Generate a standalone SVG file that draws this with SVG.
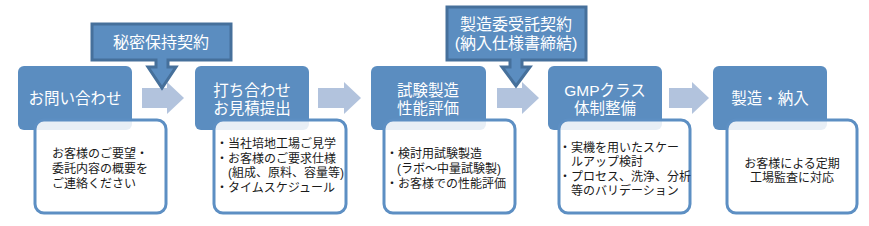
<svg xmlns="http://www.w3.org/2000/svg" width="869" height="226" viewBox="0 0 869 226">
  <style>
    text { font-family: "Liberation Sans", "Noto Sans CJK JP", sans-serif; }
    .hdr { fill: #5b8dc0; }
    .box { fill: #ffffff; fill-opacity: 0.86; stroke: #5d8fc3; stroke-width: 3; }
    .ht { fill: #ffffff; font-size: 15.5px; text-anchor: middle; }
    .bt { fill: #1a1a1a; font-size: 12px; }
    .ctr { fill: #5b8dc0; stroke: #46709b; stroke-width: 3; stroke-linejoin: miter; }
    .ct { fill: #ffffff; font-size: 16px; text-anchor: middle; }
    .arr { fill: #b2c3dd; }
  </style>
  <g id="connectors">
    <path class="arr" d="M142,88 H167 V82 L184,98 L167,114 V108 H142 Z"/>
    <path class="arr" d="M318,88 H344 V82 L361,98 L344,114 V108 H318 Z"/>
    <path class="arr" d="M497,88 H522 V82 L539,98 L522,114 V108 H497 Z"/>
    <path class="arr" d="M669,88 H692 V82 L709,98 L692,114 V108 H669 Z"/>
  </g>
  <g id="node1">
    <rect class="hdr" x="18" y="66" width="114" height="64" rx="6"/>
    <text class="ht" x="75" y="104">お問い合わせ</text>
    <rect class="box" x="35" y="120" width="131" height="93" rx="9"/>
    <text class="bt" x="52" y="157.5">お客様のご要望・</text>
    <text class="bt" x="52" y="172.5">委託内容の概要を</text>
    <text class="bt" x="52" y="187.5">ご連絡ください</text>
  </g>
  <g id="node2">
    <rect class="hdr" x="195" y="66" width="114" height="64" rx="6"/>
    <text class="ht" x="252" y="96">打ち合わせ</text>
    <text class="ht" x="252" y="114">お見積提出</text>
    <rect class="box" x="214" y="120" width="132" height="93" rx="9"/>
    <text class="bt" x="216" y="147.5">・当社培地工場ご見学</text>
    <text class="bt" x="216" y="162.5">・お客様のご要求仕様</text>
    <text class="bt" x="228" y="177">(組成、原料、容量等)</text>
    <text class="bt" x="216" y="191.5">・タイムスケジュール</text>
  </g>
  <g id="node3">
    <rect class="hdr" x="371" y="66" width="115" height="64" rx="6"/>
    <text class="ht" x="428" y="96">試験製造</text>
    <text class="ht" x="428" y="114">性能評価</text>
    <rect class="box" x="384" y="120" width="131" height="93" rx="9"/>
    <text class="bt" x="386" y="157.5">・検討用試験製造</text>
    <text class="bt" x="397" y="172.5">(ラボ～中量試験製)</text>
    <text class="bt" x="386" y="187.5">・お客様での性能評価</text>
  </g>
  <g id="node4">
    <rect class="hdr" x="548" y="66" width="114" height="64" rx="6"/>
    <text class="ht" x="605" y="96">GMPクラス</text>
    <text class="ht" x="605" y="114">体制整備</text>
    <rect class="box" x="559" y="120" width="131" height="93" rx="9"/>
    <text class="bt" x="559" y="151.5">・実機を用いたスケー</text>
    <text class="bt" x="571" y="165.5">ルアップ検討</text>
    <text class="bt" x="559" y="180.5">・プロセス、洗浄、分析</text>
    <text class="bt" x="571" y="194.5">等のバリデーション</text>
  </g>
  <g id="node5">
    <rect class="hdr" x="713" y="66" width="114" height="64" rx="6"/>
    <text class="ht" x="770" y="104">製造・納入</text>
    <rect class="box" x="727" y="120" width="130" height="93" rx="9"/>
    <text class="bt" x="792" y="167.5" text-anchor="middle">お客様による定期</text>
    <text class="bt" x="792" y="181.5" text-anchor="middle">工場監査に対応</text>
  </g>
  <g id="contract1">
    <path class="ctr" d="M92,24 H231 V60 H168 V67 H176 L162,88 L148,67 H156 V60 H92 Z"/>
    <text class="ct" x="161" y="48">秘密保持契約</text>
  </g>
  <g id="contract2">
    <path class="ctr" d="M447,7 H586 V60 H522 V67 H530 L516,86 L502,67 H510 V60 H447 Z"/>
    <text class="ct" x="516" y="30">製造委受託契約</text>
    <text class="ct" x="516" y="49">(納入仕様書締結)</text>
  </g>
</svg>
